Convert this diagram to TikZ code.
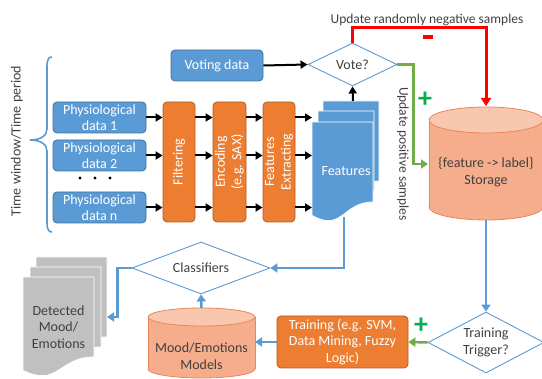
\documentclass[tikz,border=0pt]{standalone}
\usepackage{fontspec}
\setmainfont{Carlito}
\usetikzlibrary{arrows.meta,shapes.geometric}
\definecolor{myblue}{HTML}{5B9BD5}
\definecolor{bluebd}{HTML}{41719C}
\definecolor{myorange}{HTML}{ED7D31}
\definecolor{orbd}{HTML}{B85B1E}
\definecolor{salbody}{HTML}{F5AD8C}
\definecolor{saltop}{HTML}{F9C7AE}
\definecolor{salbd}{HTML}{E8875A}
\definecolor{darktext}{HTML}{404040}
\definecolor{docgray}{HTML}{C0C0C0}
\definecolor{mygreen}{HTML}{70AD47}
\definecolor{plusgreen}{HTML}{00B050}
\definecolor{myred}{HTML}{FF0000}
\newcommand{\mydoc}[5][]{%
  \path[#1] (#2,#3) -- ({#2+#4},#3) -- ({#2+#4},{#3+0.80*#5})
    .. controls ({#2+0.5*#4},{#3+0.80*#5}) and ({#2+0.5*#4},{#3+1.107*#5}) ..
    (#2,{#3+0.934*#5}) -- cycle;}
\newcommand{\mycyl}[5]{%
  \filldraw[fill=salbody, draw=salbd, line width=0.8pt] (#1,{#3-#5}) ellipse ({#4} and {#5});
  \fill[salbody] ({#1-#4},{#2+#5}) rectangle ({#1+#4},{#3-#5});
  \draw[salbd, line width=0.8pt] ({#1-#4},{#2+#5}) -- ({#1-#4},{#3-#5}) ({#1+#4},{#2+#5}) -- ({#1+#4},{#3-#5});
  \filldraw[fill=saltop, draw=salbd, line width=0.8pt] (#1,{#2+#5}) ellipse ({#4} and {#5});}
\begin{document}
\begin{tikzpicture}[x=1pt,y=-1pt,
  every node/.style={font=\fontsize{13.5}{16}\selectfont},
  boxfont/.style={font=\fontsize{14}{16.5}\selectfont},
  bluebox/.style={draw=bluebd, fill=myblue, rounded corners=4pt, text=white, align=center, inner sep=0pt, line width=0.8pt, boxfont},
  orbox/.style={draw=orbd, fill=myorange, rounded corners=4pt, text=white, align=center, inner sep=0pt, line width=0.8pt, boxfont},
  dia/.style={diamond, draw=myblue, fill=white, line width=0.9pt, text=darktext, align=center, inner sep=0pt, aspect=2, boxfont},
  blkarrow/.style={draw=black, line width=2pt, -{Triangle[length=7pt,width=8pt]}},
  bluearrow/.style={draw=myblue, line width=2.5pt, -{Triangle[length=7pt,width=9pt]}},
  greenarrow/.style={draw=mygreen, line width=2.5pt, -{Triangle[length=7pt,width=9pt]}},
  redarrow/.style={draw=myred, line width=3pt, -{Triangle[length=8pt,width=10pt]}},
  lbl/.style={text=darktext, align=center, inner sep=0pt},
  plus/.style={text=plusgreen, font=\fontsize{28}{28}\selectfont\bfseries, inner sep=0pt},
]
\useasboundingbox (0,0) rectangle (542,379);

% ---- brace and time label
\draw[myblue, line width=1.6pt] (52,57) .. controls (48.5,57) and (47,60) .. (47,66) -- (47,129)
  .. controls (47,136) and (40,140) .. (30,140) .. controls (40,140) and (47,144) .. (47,151)
  -- (47,223) .. controls (47,229) and (48.5,232) .. (52,232);
\node[lbl, rotate=90, boxfont] (tw) at (17,141) {Time window/Time period};

% ---- physiological data
\node[bluebox, minimum width=93pt, minimum height=31pt] (d1) at (99.5,117.5) {Physiological\\data 1};
\node[bluebox, minimum width=93pt, minimum height=31pt] (d2) at (99.5,155.5) {Physiological\\data 2};
\node[bluebox, minimum width=93pt, minimum height=31pt] (dn) at (99.5,207.5) {Physiological\\data n};
\fill (80,178) circle (1.6) (95,178) circle (1.6) (110,178) circle (1.6);

% ---- processing blocks
\node[orbox, minimum width=32pt, minimum height=120pt] (filt) at (179,162) {};
\node[rotate=90, text=white, align=center, inner sep=0pt, boxfont] (filtl) at (filt.center) {Filtering};
\node[orbox, minimum width=33pt, minimum height=120pt] (enc) at (229.5,162) {};
\node[rotate=90, text=white, align=center, inner sep=0pt, boxfont] (encl) at (enc.center) {Encoding\\(e.g. SAX)};
\node[orbox, minimum width=32pt, minimum height=120pt] (fe) at (279,162) {};
\node[rotate=90, text=white, align=center, inner sep=0pt, boxfont] (fel) at (fe.center) {Features\\Extracting};

% ---- features documents
\mydoc[fill=myblue, draw=white, line width=0.8pt]{323}{101}{56}{100}
\mydoc[fill=myblue, draw=white, line width=0.8pt]{318}{111}{56}{100}
\mydoc[fill=myblue, draw=white, line width=0.8pt]{312}{122}{61}{100}
\node[text=white, inner sep=0pt, boxfont] (feat) at (346,171) {Features};
\coordinate (featl) at (312,162);
\coordinate (featt) at (353,101);
\coordinate (featb) at (344,217);

\foreach \r in {d1,d2,dn} {
  \draw[blkarrow] (\r.east) -- (\r.east -| filt.west);
  \draw[blkarrow] (filt.east |- \r) -- (enc.west |- \r);
  \draw[blkarrow] (enc.east |- \r) -- (fe.west |- \r);
  \draw[blkarrow] (fe.east |- \r) -- (featl |- \r);
}

% ---- voting
\node[bluebox, minimum width=92pt, minimum height=31pt] (vd) at (217,65.5) {Voting data};
\node[dia, minimum width=89pt, minimum height=43pt] (vote) at (352.5,64.5) {Vote?};
\draw[blkarrow] (vd.east) -- (vote.west);
\draw[blkarrow] (featt) -- (vote.south);

% ---- storage
\mycyl{486}{107}{220}{57}{13}
\node[lbl, boxfont] (stor) at (486,172) {\{feature -> label\}\\Storage};
\coordinate (stortop) at (486,106);
\coordinate (storleft) at (428,164);
\coordinate (storbot) at (486,220);

\node[lbl] (neg) at (427,20) {Update randomly negative samples};
\draw[redarrow] (vote.north) -- ++(0,-15) -| (stortop);
\node[fill=myred, minimum width=10pt, minimum height=3.5pt, inner sep=0pt] (minus) at (428,37) {};

\draw[greenarrow] (vote.east) -- ++(16,0) |- (storleft);
\node[plus] (plus1) at (425,100) {+};
\node[lbl, rotate=-90] (pos) at (403,154) {Update positive samples};

% ---- training
\node[dia, minimum width=116pt, minimum height=61pt] (trig) at (486,342.5) {Training\\Trigger?};
\draw[bluearrow] (storbot) -- (trig.north);
\node[orbox, minimum width=131pt, minimum height=52pt] (train) at (342.5,342) {Training (e.g. SVM,\\Data Mining, Fuzzy\\Logic)};
\draw[greenarrow] (trig.west) -- (train.east);
\node[plus] (plus2) at (421,326) {+};

% ---- models
\mycyl{201.5}{308}{378}{53.5}{9}
\node[lbl, boxfont] (models) at (201.5,356) {Mood/Emotions\\Models};
\coordinate (modright) at (255,342);
\coordinate (modtop) at (201.5,308);
\draw[bluearrow] (train.west) -- (modright);

% ---- classifiers
\node[dia, minimum width=138pt, minimum height=52pt] (cls) at (201,268) {Classifiers};
\draw[bluearrow] (modtop) -- (cls.south);
\draw[bluearrow] (featb) |- (cls.east);

% ---- detected documents
\mydoc[fill=docgray, draw=white, line width=0.8pt]{36}{257}{71}{100}
\mydoc[fill=docgray, draw=white, line width=0.8pt]{30}{267}{71}{100}
\mydoc[fill=docgray, draw=white, line width=0.8pt]{23}{277}{71}{100}
\node[lbl, boxfont] (det) at (58.5,327) {Detected\\Mood/\\Emotions};
\coordinate (detr) at (107,317);
\draw[bluearrow] (cls.west) -- ++(-14,0) |- (detr);
\end{tikzpicture}
\end{document}
